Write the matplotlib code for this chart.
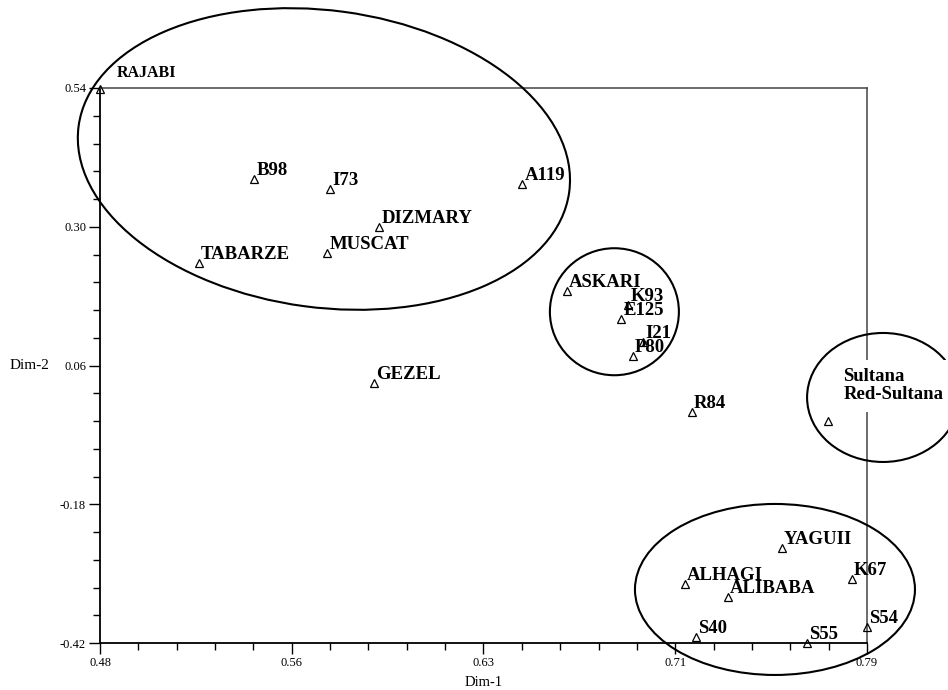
import matplotlib
matplotlib.use("Agg")
import matplotlib.pyplot as plt
import numpy as np
from matplotlib.patches import Ellipse
from matplotlib.transforms import ScaledTranslation

# ---- data ----
names = ["RAJABI", "B98", "I73", "A119", "DIZMARY", "MUSCAT", "TABARZE",
         "ASKARI", "K93", "E125", "I21", "P80", "GEZEL", "R84",
         "Sultana\nRed-Sultana", "YAGUII", "ALHAGI", "ALIBABA", "K67",
         "S54", "S40", "S55"]
dim1 = [0.480, 0.5424, 0.5730, 0.6507, 0.5929, 0.5719, 0.5201,
        0.6686, 0.6935, 0.6907, 0.6995, 0.6955, 0.5907, 0.7193,
        0.7744, 0.7555, 0.7164, 0.7339, 0.7838,
        0.7901, 0.7209, 0.7656]
dim2 = [0.538, 0.3821, 0.3648, 0.3734, 0.3001, 0.2541, 0.2378,
        0.1894, 0.1647, 0.1408, 0.0998, 0.0770, 0.0297, -0.0204,
        -0.0355, -0.2562, -0.3179, -0.3409, -0.3098,
        -0.3928, -0.4091, -0.4205]
x_ticks = [0.48, 0.5575, 0.635, 0.7125, 0.79]
x_tick_labels = ["0.48", "0.56", "0.63", "0.71", "0.79"]
y_ticks = [0.54, 0.30, 0.06, -0.18, -0.42]
y_tick_labels = ["0.54", "0.30", "0.06", "-0.18", "-0.42"]

plt.rcParams["font.family"] = ["Liberation Serif", "DejaVu Serif"]

fig = plt.figure(figsize=(9.48, 6.9), dpi=100)
ax = fig.add_axes([100/948, 1-643/690, 767/948, 555/690])
ax.set_xlim(0.48, 0.79)
ax.set_ylim(-0.42, 0.54)

# spines
for s in ["left", "bottom"]:
    ax.spines[s].set_linewidth(1.3)
    ax.spines[s].set_color("black")
for s in ["top", "right"]:
    ax.spines[s].set_linewidth(1.1)
    ax.spines[s].set_color("#444444")

ax.set_xticks(x_ticks)
ax.set_xticklabels(x_tick_labels)
ax.set_yticks(y_ticks)
ax.set_yticklabels(y_tick_labels)
ax.set_xticks(np.arange(0.48, 0.7901, 0.0155), minor=True)
ax.set_yticks(np.arange(-0.42, 0.5401, 0.048), minor=True)
ax.tick_params(which="major", direction="out", length=8, width=1.0, pad=2,
               labelsize=9)
ax.tick_params(which="minor", direction="out", length=5, width=1.0)
ax.tick_params(top=False, right=False, which="both")

ax.set_xlabel("Dim-1", fontsize=10.5, labelpad=5)
ax.text(-0.118, 0.5, "Dim-2", transform=ax.transAxes, fontsize=11,
        ha="left", va="center")

# points
ax.plot(dim1, dim2, linestyle="none", marker="^", markersize=6,
        markerfacecolor="none", markeredgecolor="black", markeredgewidth=0.9,
        clip_on=False, zorder=5)

# labels
for n, x, y in zip(names, dim1, dim2):
    if n == "RAJABI":
        ax.annotate(n, (x, y), xytext=(17, 12), textcoords="offset pixels",
                    fontsize=11.5, fontweight="bold", ha="left",
                    va="baseline", annotation_clip=False, zorder=6)
    elif n.startswith("Sultana"):
        ax.annotate(n, (x, y), xytext=(15, 35), textcoords="offset pixels",
                    fontsize=13.5, fontweight="bold", ha="left", va="center",
                    linespacing=1.1, annotation_clip=False, zorder=6,
                    bbox=dict(boxstyle="square,pad=0.45", fc="white",
                              ec="none"))
    else:
        ax.annotate(n, (x, y), xytext=(2, 4), textcoords="offset pixels",
                    fontsize=13.5, fontweight="bold", ha="left",
                    va="baseline", annotation_clip=False, zorder=6)

# group ellipses (center in data coords, size in inches)
groups = [
    ((0.5705, 0.4172), 4.95, 2.97, -7.65),
    ((0.6879, 0.1530), 1.29, 1.27, 0.0),
    ((0.7965, 0.0047), 1.52, 1.29, 0.0),
    ((0.7528, -0.3274), 2.80, 1.71, 0.0),
]
for (cx, cy), w, h, ang in groups:
    tr = fig.dpi_scale_trans + ScaledTranslation(cx, cy, ax.transData)
    e = Ellipse((0, 0), w, h, angle=ang, transform=tr, fill=False,
                edgecolor="black", linewidth=1.5, clip_on=False, zorder=4)
    ax.add_artist(e)

fig.savefig("out.png", dpi=100)
